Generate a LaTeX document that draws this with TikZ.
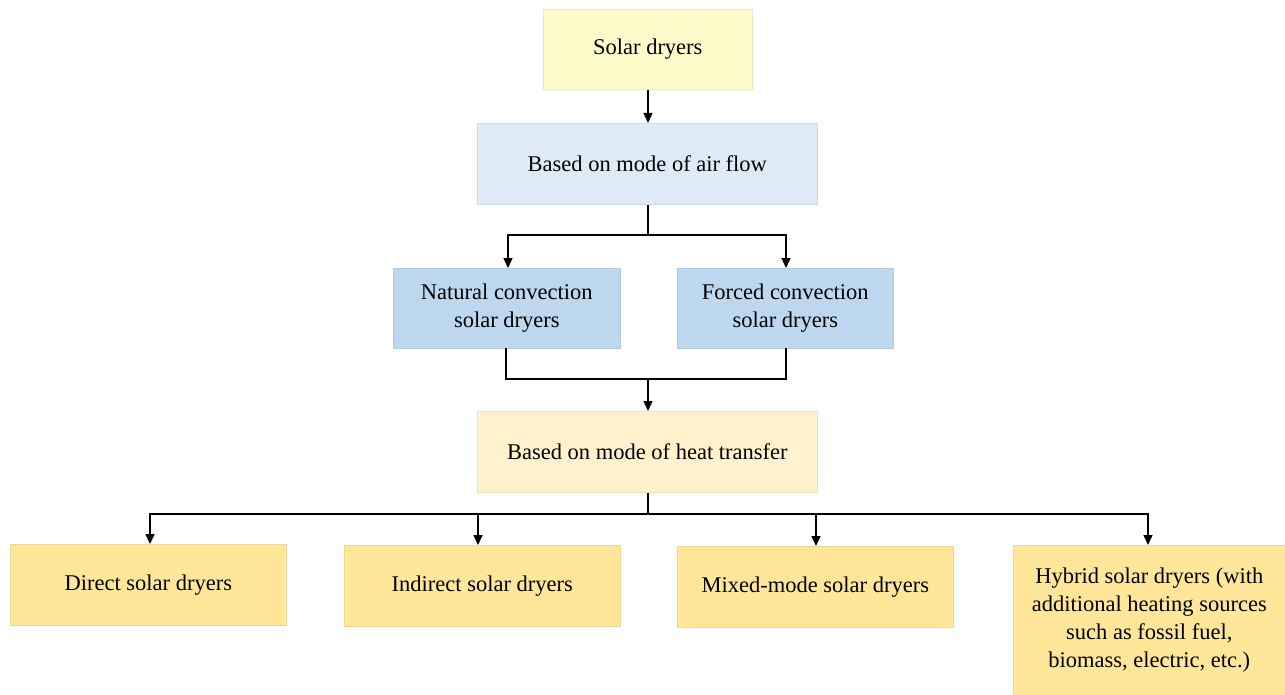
\documentclass[tikz,border=0pt]{standalone}
\usepackage{fontspec}
\setmainfont{Liberation Serif}
\usetikzlibrary{arrows.meta}
\definecolor{cTop}{HTML}{FEFBCB}
\definecolor{cAir}{HTML}{DEEAF6}
\definecolor{cConv}{HTML}{BDD7EE}
\definecolor{cHeat}{HTML}{FFF2CC}
\definecolor{cLeaf}{HTML}{FFE699}
\tikzset{
  box/.style={draw=#1!85!gray, line width=0.6pt, fill=#1, anchor=north west, inner sep=0pt, align=center,
     font=\fontsize{22.5}{28}\selectfont},
  conn/.style={line width=1.4pt, black},
  arr/.style={conn, -{Triangle[width=9pt,length=10pt]}}
}
\begin{document}
\begin{tikzpicture}[x=1pt,y=-1pt]
\useasboundingbox (0,0) rectangle (1285,695);
\node[box=cTop, minimum width=209pt, minimum height=80pt] (top) at (543,9) {\raisebox{-3pt}{Solar dryers}};
\node[box=cAir, minimum width=340pt, minimum height=81pt] (air) at (477,123) {\raisebox{-2pt}{Based on mode of air flow}};
\node[box=cConv, minimum width=227pt, minimum height=80pt] (nat) at (393,268) {Natural convection\\solar dryers};
\node[box=cConv, minimum width=216pt, minimum height=80pt] (forc) at (677,268) {Forced convection\\solar dryers};
\node[box=cHeat, minimum width=340pt, minimum height=81pt] (heat) at (477,411) {\raisebox{-2pt}{Based on mode of heat transfer}};
\node[box=cLeaf, minimum width=276pt, minimum height=81pt] (dir) at (10,544) {\raisebox{-3pt}{Direct solar dryers}};
\node[box=cLeaf, minimum width=276pt, minimum height=81pt] (ind) at (344,545) {\raisebox{-3pt}{Indirect solar dryers}};
\node[box=cLeaf, minimum width=276pt, minimum height=81pt] (mix) at (677,546) {\raisebox{-3pt}{Mixed-mode solar dryers}};
\node[box=cLeaf, minimum width=272pt, minimum height=150pt] (hyb) at (1013,545) {\raisebox{-4pt}{\parbox{272pt}{\centering Hybrid solar dryers (with\\additional heating sources\\such as fossil fuel,\\biomass, electric, etc.)}}};

\coordinate (j1) at (648,235);
\coordinate (j2) at (648,379);
\coordinate (j3) at (648,514);

\draw[arr] (top.south -| j1) -- (air.north -| j1);
\draw[conn] (air.south -| j1) -- (j1);
\draw[arr] (j1) -| (508,268);
\draw[arr] (j1) -| (786,268);
\draw[conn] (506,348) |- (j2);
\draw[conn] (786,348) |- (j2);
\draw[arr] (j2) -- (heat.north -| j2);
\draw[conn] (heat.south -| j3) -- (j3);
\draw[arr] (j3) -| (dir.north -| 150,0);
\draw[arr] (j3) -| (ind.north -| 478,0);
\draw[arr] (j3) -| (mix.north -| 816,0);
\draw[arr] (j3) -| (hyb.north -| 1148,0);
\end{tikzpicture}
\end{document}
